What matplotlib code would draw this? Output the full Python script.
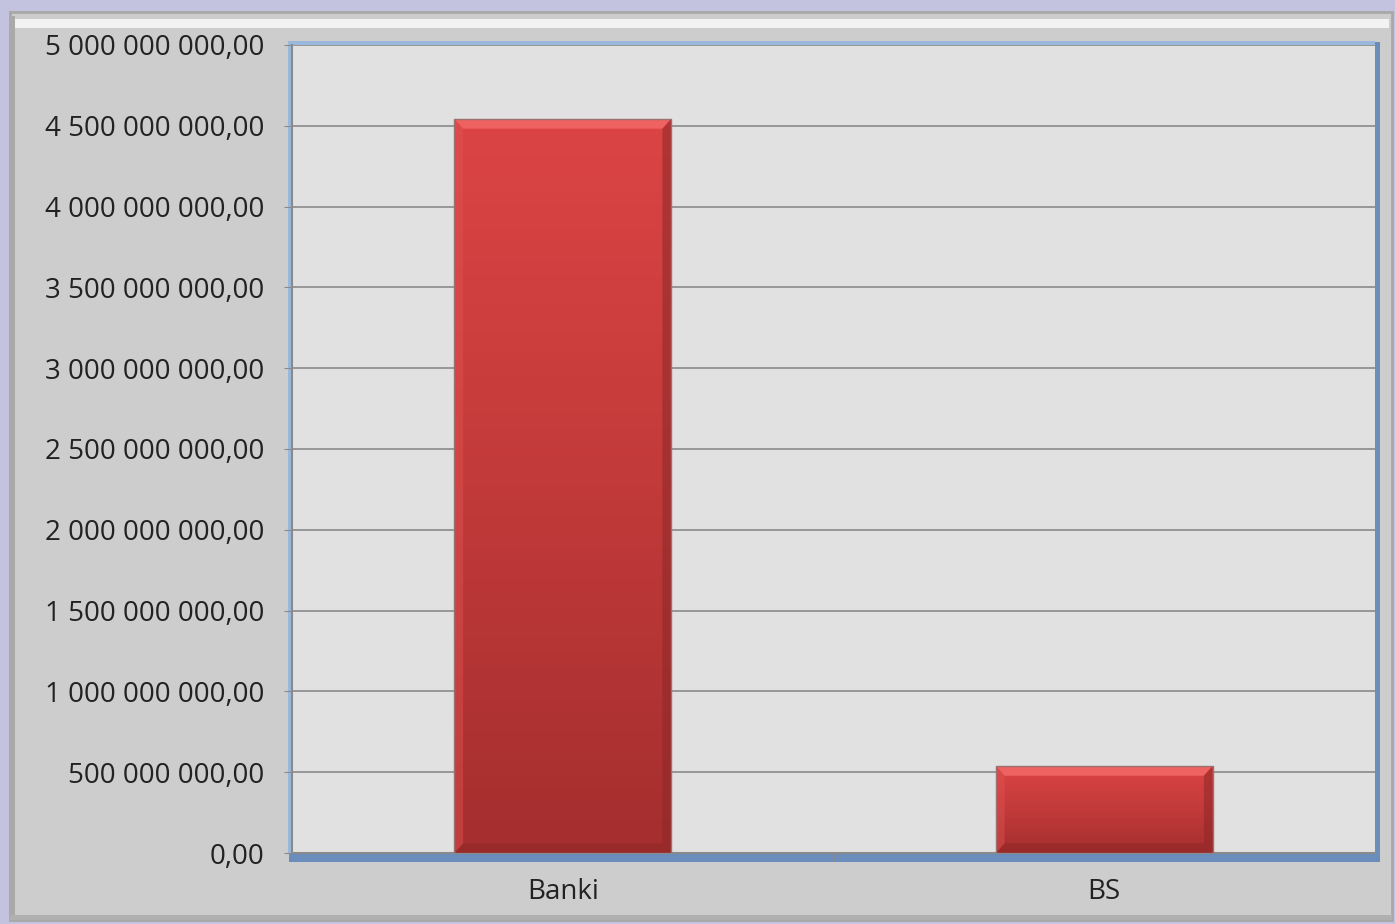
import matplotlib.pyplot as plt
import numpy as np
from matplotlib.patches import FancyBboxPatch, Rectangle, Polygon
from matplotlib.colors import LinearSegmentedColormap
from matplotlib.ticker import FuncFormatter, MultipleLocator

# data
categories = ['Banki', 'BS']
values = [4542000000, 538000000]

plt.rcParams['font.family'] = ['Open Sans', 'DejaVu Sans']

fig = plt.figure(figsize=(13.95, 9.24), dpi=100)
fig.patch.set_facecolor('#c3c3df')

# grey chart panel with a light bevel on top
W, H = 1395, 924
panel = FancyBboxPatch((10 / W, 0.004), 1 - 13 / W, 1 - 12 / H - 0.004,
                       boxstyle='square,pad=0', transform=fig.transFigure,
                       facecolor='#cdcdcd', edgecolor='#a8a8a8', linewidth=2,
                       zorder=0)
fig.patches.append(panel)
fig.patches.append(Rectangle((14 / W, 1 - 28 / H), 1 - 20 / W, 9 / H,
                             transform=fig.transFigure, facecolor='#f2f2f2',
                             edgecolor='none', zorder=1))
fig.patches.append(Rectangle((10 / W, 0.004), 5 / W, 1 - 20 / H,
                             transform=fig.transFigure, facecolor='#a9a9a9',
                             edgecolor='none', zorder=1))
fig.patches.append(Rectangle((10 / W, 0.004), 1 - 13 / W, 5 / H,
                             transform=fig.transFigure, facecolor='#b0b0b0',
                             edgecolor='none', zorder=1))

left, right = 292 / W, 1375 / W
bottom, top = 1 - 853 / H, 1 - 45 / H

# blue frame around the plot area
fig.patches.append(Rectangle((left - 3 / W, bottom - 9 / H),
                             right - left + 8 / W, top - bottom + 12 / H,
                             transform=fig.transFigure, facecolor='#6a8dbb',
                             edgecolor='none', zorder=1))
fig.patches.append(Rectangle((left - 4 / W, bottom - 1 / H),
                             right - left + 4 / W, top - bottom + 5 / H,
                             transform=fig.transFigure, facecolor='#9ab8dc',
                             edgecolor='none', zorder=1))

ax = fig.add_axes([left, bottom, right - left, top - bottom])
ax.set_facecolor('#e1e1e1')
ax.set_zorder(2)

x = np.arange(len(categories))
bars = ax.bar(x, values, width=0.4, color='#d04040', edgecolor='none',
              zorder=3)

# vertical gradient inside each bar, plus bevel highlights
grad = np.linspace(0, 1, 256).reshape(-1, 1)
cmap = LinearSegmentedColormap.from_list('barred', ['#a52e2e', '#c23a3a', '#dc4444'])
for b in bars:
    bx, bw, bh = b.get_x(), b.get_width(), b.get_height()
    im = ax.imshow(grad, extent=[bx, bx + bw, 0, bh], origin='lower',
                   cmap=cmap, aspect='auto', zorder=4)
    im.set_clip_path(b)
    dx = bw * 0.04
    dy = 5000000000 * 0.012
    # top bevel
    ax.add_patch(Polygon([(bx, bh), (bx + bw, bh), (bx + bw - dx, bh - dy),
                          (bx + dx, bh - dy)], closed=True,
                         facecolor='#ee6262', edgecolor='none', zorder=5))
    # right bevel (darker)
    ax.add_patch(Polygon([(bx + bw, bh), (bx + bw, 0), (bx + bw - dx, dy),
                          (bx + bw - dx, bh - dy)], closed=True,
                         facecolor='#8e2828', alpha=0.55, edgecolor='none', zorder=5))
    # bottom bevel
    ax.add_patch(Polygon([(bx, 0), (bx + bw, 0), (bx + bw - dx, dy),
                          (bx + dx, dy)], closed=True,
                         facecolor='#8e2828', alpha=0.5, edgecolor='none', zorder=5))
    # left bevel (lighter)
    ax.add_patch(Polygon([(bx, 0), (bx, bh), (bx + dx, bh - dy),
                          (bx + dx, dy)], closed=True,
                         facecolor='#e25252', alpha=0.45, edgecolor='none', zorder=5))
    ax.add_patch(Rectangle((bx, 0), bw, bh, fill=False,
                           edgecolor='#9a7070', linewidth=1, zorder=6))

ax.set_xlim(-0.5, len(categories) - 0.5)
ax.set_ylim(0, 5000000000)
ax.yaxis.set_major_locator(MultipleLocator(500000000))


def fmt(v, pos):
    s = '{:,.2f}'.format(v)
    return s.replace(',', ' ').replace('.', ',')


ax.yaxis.set_major_formatter(FuncFormatter(fmt))
ax.grid(axis='y', color='#8a8a8a', linewidth=1.2, zorder=1)
ax.set_axisbelow(True)

ax.set_xticks(x)
ax.set_xticklabels(categories)
ax.set_xticks([0.5], minor=True)
ax.tick_params(axis='x', which='major', length=0, labelsize=20, pad=18,
               colors='#222222')
ax.tick_params(axis='x', which='minor', length=6, color='#8a8a8a')
ax.tick_params(axis='y', length=6, color='#8a8a8a', labelsize=20,
               labelcolor='#222222', pad=14)

for side in ['top', 'right']:
    ax.spines[side].set_visible(False)
for side in ['left', 'bottom']:
    ax.spines[side].set_color('#8a8a8a')
    ax.spines[side].set_linewidth(1.5)

fig.savefig('out.png', dpi=100, facecolor=fig.get_facecolor())
